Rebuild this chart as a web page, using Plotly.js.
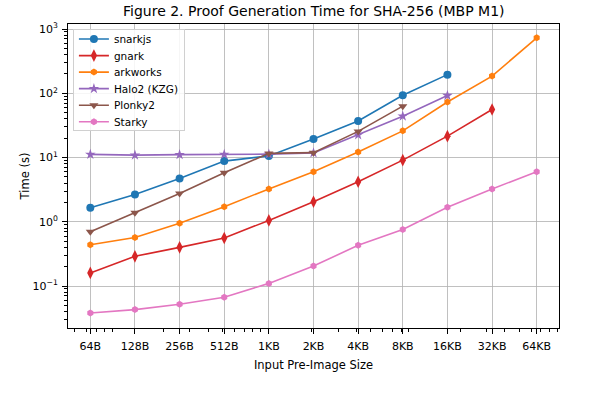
<!DOCTYPE html>
<html>
<head>
<meta charset="utf-8">
<script src="https://cdn.plot.ly/plotly-3.0.1.min.js"></script>
<style>html,body{margin:0;padding:0;background:#fff;}#chart{width:604px;height:397px;}</style>
</head>
<body>
<div id="chart"></div>
<script>
var sizes = [64, 128, 256, 512, 1024, 2048, 4096, 8192, 16384, 32768, 65536];
var sizeLabels = ["64B", "128B", "256B", "512B", "1KB", "2KB", "4KB", "8KB", "16KB", "32KB", "64KB"];
var yTickVals = [0.1, 1, 10, 100, 1000];
var yTickLabels = ["10<sup>\u22121</sup>", "10<sup>0</sup>", "10<sup>1</sup>", "10<sup>2</sup>", "10<sup>3</sup>"];

var snarkjs  = [1.65, 2.65, 4.7, 8.8, 10.6, 19.5, 37, 93, 195];
var gnark    = [0.16, 0.29, 0.40, 0.56, 1.05, 2.05, 4.2, 9.1, 21.5, 56];
var arkworks = [0.44, 0.57, 0.95, 1.72, 3.25, 6.0, 12.2, 26, 73, 185, 730];
var halo2    = [11.2, 10.9, 11.1, 11.2, 11.3, 11.8, 22.5, 44, 92];
var plonky2  = [0.70, 1.38, 2.75, 5.8, 11.6, 11.9, 25.5, 63];
var starky   = [0.038, 0.043, 0.052, 0.067, 0.11, 0.205, 0.43, 0.76, 1.68, 3.25, 6.0];

var seriesNames = ["snarkjs", "gnark", "arkworks", "Halo2 (KZG)", "Plonky2", "Starky"];
var seriesData = [snarkjs, gnark, arkworks, halo2, plonky2, starky];
var colors = ["#1f77b4", "#d62728", "#ff7f0e", "#9467bd", "#8c564b", "#e377c2"];
var symbols = ["circle", "diamond-tall", "hexagon", "star", "triangle-down", "hexagon"];
var msizes = [8, 9, 7, 8, 8, 7];

// minor tick positions (2..9 x 10^k), matplotlib-style log minor ticks
function minorTicks(kmin, kmax) {
  var out = [];
  for (var k = kmin; k <= kmax; k++) {
    for (var m = 2; m <= 9; m++) out.push(m * Math.pow(10, k));
  }
  return out;
}

var traces = seriesData.map(function (vals, i) {
  return {
    x: sizes.slice(0, vals.length),
    y: vals,
    name: seriesNames[i],
    type: "scatter",
    mode: "lines+markers",
    line: {color: colors[i], width: 1.6},
    marker: {color: colors[i], symbol: symbols[i], size: msizes[i]}
  };
});

var layout = {
  width: 604,
  height: 397,
  margin: {l: 68, r: 45, t: 24, b: 69},
  paper_bgcolor: "#fff",
  plot_bgcolor: "#fff",
  font: {family: "DejaVu Sans, sans-serif", size: 11, color: "#000"},
  title: {
    text: "Figure 2. Proof Generation Time for SHA-256 (MBP M1)",
    font: {size: 14, color: "#000"},
    x: 0.5195, xanchor: "center", y: 0.972, yanchor: "middle"
  },
  showlegend: true,
  legend: {
    x: 0.01, y: 0.985, xanchor: "left", yanchor: "top",
    bgcolor: "rgba(255,255,255,0.85)", bordercolor: "#d0d0d0", borderwidth: 1,
    font: {size: 10.5},
    tracegroupgap: 0,
    itemwidth: 30
  },
  xaxis: {
    type: "log",
    range: [Math.log10(Math.pow(2, 5.5)), Math.log10(Math.pow(2, 16.5))],
    tickmode: "array",
    tickvals: sizes,
    ticktext: sizeLabels,
    ticks: "outside", ticklen: 5, tickcolor: "#000",
    ticklabelstandoff: 3,
    showline: true, linecolor: "#000", linewidth: 1, mirror: true,
    showgrid: true, gridcolor: "#b0b0b0", gridwidth: 0.8,
    zeroline: false,
    minor: {tickmode: "array", tickvals: minorTicks(1, 4), ticks: "outside", ticklen: 3, tickcolor: "#000", showgrid: false},
    title: {text: "Input Pre-Image Size", font: {size: 11.5}, standoff: 8}
  },
  yaxis: {
    type: "log",
    range: [-1.653, 3.078],
    tickmode: "array",
    tickvals: yTickVals,
    ticktext: yTickLabels,
    ticks: "outside", ticklen: 5, tickcolor: "#000",
    ticklabelstandoff: 2,
    showline: true, linecolor: "#000", linewidth: 1, mirror: true,
    showgrid: true, gridcolor: "#b0b0b0", gridwidth: 0.8,
    zeroline: false,
    minor: {tickmode: "array", tickvals: minorTicks(-2, 2), ticks: "outside", ticklen: 3, tickcolor: "#000", showgrid: false},
    title: {text: "Time (s)", font: {size: 11.5}, standoff: 0}
  }
};

Plotly.newPlot("chart", traces, layout, {displayModeBar: false, staticPlot: true}).then(function () {
  // tighten legend row spacing to match the compact matplotlib legend
  var leg = document.querySelector("#chart .legend");
  if (!leg) return;
  var items = leg.querySelectorAll("g.traces");
  var scale = 0.87, first = null, shift = 0, lift = 5;
  items.forEach(function (g) {
    var t = g.getAttribute("transform") || "";
    var m = t.match(/translate\(\s*([-\d.]+)[ ,]+([-\d.]+)\s*\)/);
    if (!m) return;
    var x = parseFloat(m[1]), y = parseFloat(m[2]);
    if (first === null) first = y;
    var ny = first + (y - first) * scale;
    shift = (y - ny);
    g.setAttribute("transform", "translate(" + x + "," + (ny - lift) + ")");
  });
  var bg = leg.querySelector("rect.bg");
  if (bg) {
    var h = parseFloat(bg.getAttribute("height"));
    bg.setAttribute("height", h - shift - 3 - lift - 3);
  }
});
</script>
</body>
</html>
